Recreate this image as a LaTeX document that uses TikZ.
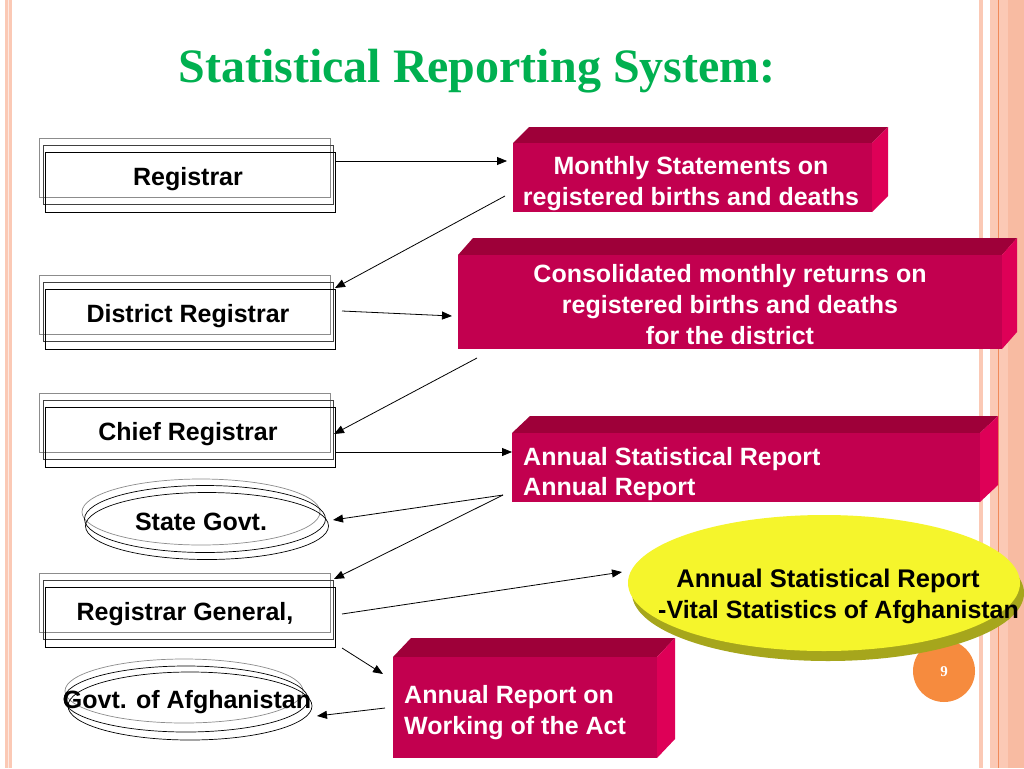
\documentclass[tikz,border=0pt]{standalone}
\usepackage{fontspec}
\setmainfont{Liberation Sans}
\newfontfamily\titlefont{Liberation Serif}
\usetikzlibrary{arrows.meta,shapes.geometric}
\definecolor{mfront}{HTML}{C2004F}
\definecolor{mtop}{HTML}{9E0039}
\definecolor{mside}{HTML}{DE0057}
\definecolor{tgreen}{HTML}{00B050}
\definecolor{peach}{HTML}{FBC9B5}
\definecolor{peachd}{HTML}{F8BBA2}
\definecolor{oline}{HTML}{F08A5A}
\definecolor{pgorange}{HTML}{F68B3E}
\definecolor{yel}{HTML}{F5F52C}
\definecolor{olive}{HTML}{A6A61C}
\newcommand\MagBlock[7]{%
  \fill[mtop] (#2,#3) -- (#2+#6,#3-#7) -- (#4+#6,#3-#7) -- (#4,#3) -- cycle;
  \fill[mside] (#4,#3) -- (#4+#6,#3-#7) -- (#4+#6,#5-#7) -- (#4,#5) -- cycle;
  \node[fill=mfront, inner sep=0, minimum width={#4-#2}, minimum height={#5-#3}] (#1) at ({(#2+#4)/2},{(#3+#5)/2}) {};
}
\newcommand\RegStack[4]{%
  \draw[backline] (39,#2-14) rectangle (330,#2+45);
  \draw[midline] (43,#2-7) rectangle (333,#2+52);
  \node[draw, line width=1pt, inner sep=0, minimum width=290, minimum height=60] (#1) at (190,#2+30) {};
  \node[lbl] (#1-t) at (#3,#2+33) {#4};
}
\begin{document}
\begin{tikzpicture}[x=1pt,y=-1pt,
  lbl/.style={font=\bfseries\fontsize{25}{30}\selectfont, inner sep=0, anchor=base},
  wlbl/.style={lbl, text=white},
  wlbll/.style={wlbl, anchor=base west},
  backline/.style={draw=black!45, line width=1pt},
  midline/.style={draw=black!75, line width=1pt},
  ell/.style={ellipse, draw, line width=0.7pt, inner sep=0},
  arr/.style={-{Triangle[length=10pt,width=8pt]}, line width=0.8pt}]
\useasboundingbox (0,0) rectangle (1024,768);
\fill[white] (0,0) rectangle (1024,768);
% border stripes
\fill[peach] (5,0) rectangle (12,768);
\fill[peach!40] (8,0) rectangle (9,768);
\fill[peach] (979,0) rectangle (983,768);
\fill[peach] (990,0) rectangle (1024,768);
\fill[peachd] (1008,0) rectangle (1024,768);
\draw[oline, line width=1.2pt] (998.5,0) -- (998.5,768);
% title
\node[font=\titlefont\bfseries\fontsize{48}{55}\selectfont, text=tgreen, inner sep=0, anchor=base] (title) at (477,82) {Statistical Reporting System:};
% left stacks
\RegStack{reg}{152}{188}{Registrar}
\RegStack{dreg}{289}{188}{District Registrar}
\RegStack{creg}{407}{188}{Chief Registrar}
\RegStack{rgen}{587}{185}{Registrar General,}
% State Govt ellipses
\node[ell, draw=black!45, minimum width=238, minimum height=66] (sg1) at (201,512) {};
\node[ell, minimum width=241, minimum height=67] (sg2) at (205,519) {};
\node[ell, minimum width=243, minimum height=67] (sg) at (207,526) {};
\node[lbl] (sg-t) at (201,530) {State Govt.};
% Govt of Afghanistan ellipses
\node[ell, draw=black!45, minimum width=238, minimum height=64] (ga1) at (184,691) {};
\node[ell, minimum width=244, minimum height=66] (ga2) at (186,699) {};
\node[ell, minimum width=244, minimum height=68] (ga) at (190,706) {};
\node[lbl] (ga-t) at (187,708) {Govt. of Afghanistan};
% magenta blocks
\MagBlock{mon}{513}{143}{872}{212}{16}{16}
\node[wlbl] at (691,174) {Monthly Statements on};
\node[wlbl] at (691,205) {registered births and deaths};
\MagBlock{con}{458}{255}{1002}{349}{15}{17}
\node[wlbl] at (730,282) {Consolidated monthly returns on};
\node[wlbl] at (730,313) {registered births and deaths};
\node[wlbl] at (730,344) {for the district};
\MagBlock{asr}{512}{433}{980}{502}{18}{17}
\node[wlbll] at (523,465) {Annual Statistical Report};
\node[wlbll] at (523,495) {Annual Report};
\MagBlock{wrk}{393}{657}{657}{758}{18}{19}
\node[wlbll] at (404,703) {Annual Report on};
\node[wlbll] at (404,734) {Working of the Act};
% page number
\node[circle, fill=pgorange, minimum size=62, inner sep=0] (pg) at (944,671) {};
\node[text=white, font=\titlefont\bfseries\fontsize{15}{18}\selectfont, inner sep=0] at (944,672) {9};
% yellow ellipse
\fill[olive] (828,593) ellipse [x radius=196, y radius=68];
\node[ellipse, fill=yel, minimum width=392, minimum height=136, inner sep=0] (ye) at (824,583) {};
\node[lbl, font=\bfseries\fontsize{25.5}{30}\selectfont] at (828,587) {Annual Statistical Report};
\node[lbl, anchor=base west] at (658,618) {-Vital Statistics of Afghanistan};
% connector end points
\coordinate (r1) at (335,161); \coordinate (m1in) at (507,161);
\coordinate (m1out) at (505,196); \coordinate (drin) at (335,288);
\coordinate (drout) at (342,311); \coordinate (conin) at (452,316);
\coordinate (conout) at (477,358); \coordinate (crin) at (334,434);
\coordinate (crout) at (335,452); \coordinate (asrin) at (512,452);
\coordinate (asrout) at (503,495); \coordinate (sgin) at (333,520);
\coordinate (rgin) at (334,579);
\coordinate (rgout1) at (342,614); \coordinate (yein) at (622,572);
\coordinate (rgout2) at (342,648); \coordinate (wkin) at (383,674);
\coordinate (wkout) at (385,708); \coordinate (gain) at (317,716);
\draw[arr] (r1) -- (m1in);
\draw[arr] (m1out) -- (drin);
\draw[arr] (drout) -- (conin);
\draw[arr] (conout) -- (crin);
\draw[arr] (crout) -- (asrin);
\draw[arr] (asrout) -- (sgin);
\draw[arr] (asrout) -- (rgin);
\draw[arr] (rgout1) -- (yein);
\draw[arr] (rgout2) -- (wkin);
\draw[arr] (wkout) -- (gain);
\end{tikzpicture}
\end{document}
